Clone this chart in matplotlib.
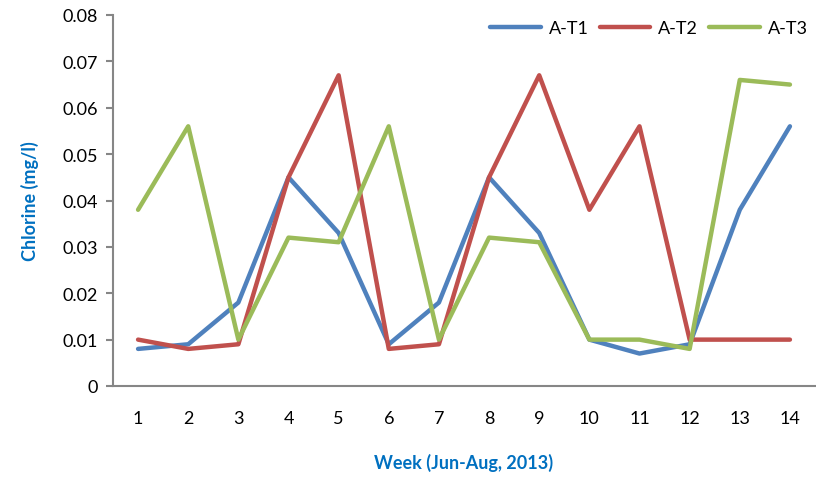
import matplotlib
matplotlib.use('Agg')
from matplotlib import pyplot as plt

# weekly chlorine readings (mg/l)
weeks = list(range(1, 15))
a_t1 = [0.008, 0.009, 0.018, 0.045, 0.033, 0.009, 0.018, 0.045, 0.033, 0.010, 0.007, 0.009, 0.038, 0.056]
a_t2 = [0.010, 0.008, 0.009, 0.045, 0.067, 0.008, 0.009, 0.045, 0.067, 0.038, 0.056, 0.010, 0.010, 0.010]
a_t3 = [0.038, 0.056, 0.010, 0.032, 0.031, 0.056, 0.010, 0.032, 0.031, 0.010, 0.010, 0.008, 0.066, 0.065]

plt.rcParams['font.family'] = ['Lato', 'DejaVu Sans']

fig = plt.figure(figsize=(8.16, 4.81), dpi=100)
ax = fig.add_axes([113/816, 1 - 387/481, (815-113)/816, (387-16)/481])

ax.plot(weeks, a_t1, color='#4F81BD', lw=3.2, label='A-T1', solid_capstyle='round')
ax.plot(weeks, a_t2, color='#C0504D', lw=3.2, label='A-T2', solid_capstyle='round')
ax.plot(weeks, a_t3, color='#9BBB59', lw=3.2, label='A-T3', solid_capstyle='round')

ax.set_xlim(0.5, 14.5)
ax.set_ylim(0, 0.08)
ax.set_xticks(weeks)
ax.set_yticks([0, 0.01, 0.02, 0.03, 0.04, 0.05, 0.06, 0.07, 0.08])
ax.set_yticklabels(['0', '0.01', '0.02', '0.03', '0.04', '0.05', '0.06', '0.07', '0.08'])
ax.tick_params(axis='x', length=0, pad=17, labelsize=13)
ax.tick_params(axis='y', length=5, color='#868686', width=1.5, labelsize=13, pad=6)

for s in ['top', 'right']:
    ax.spines[s].set_visible(False)
for s in ['left', 'bottom']:
    ax.spines[s].set_color('#868686')
    ax.spines[s].set_linewidth(1.5)

ax.set_xlabel('Week (Jun-Aug, 2013)', color='#0070C0', fontweight='bold', fontsize=13, labelpad=20)
ax.set_ylabel('Chlorine (mg/l)', color='#0070C0', fontweight='bold', fontsize=13, labelpad=17)

ax.legend(loc='upper right', ncol=3, frameon=False, fontsize=13, handlelength=2.8,
          columnspacing=0.6, handletextpad=0.45, borderaxespad=0.2, borderpad=0.2,
          bbox_to_anchor=(1.0, 1.005))

plt.savefig('out.png', dpi=100)
